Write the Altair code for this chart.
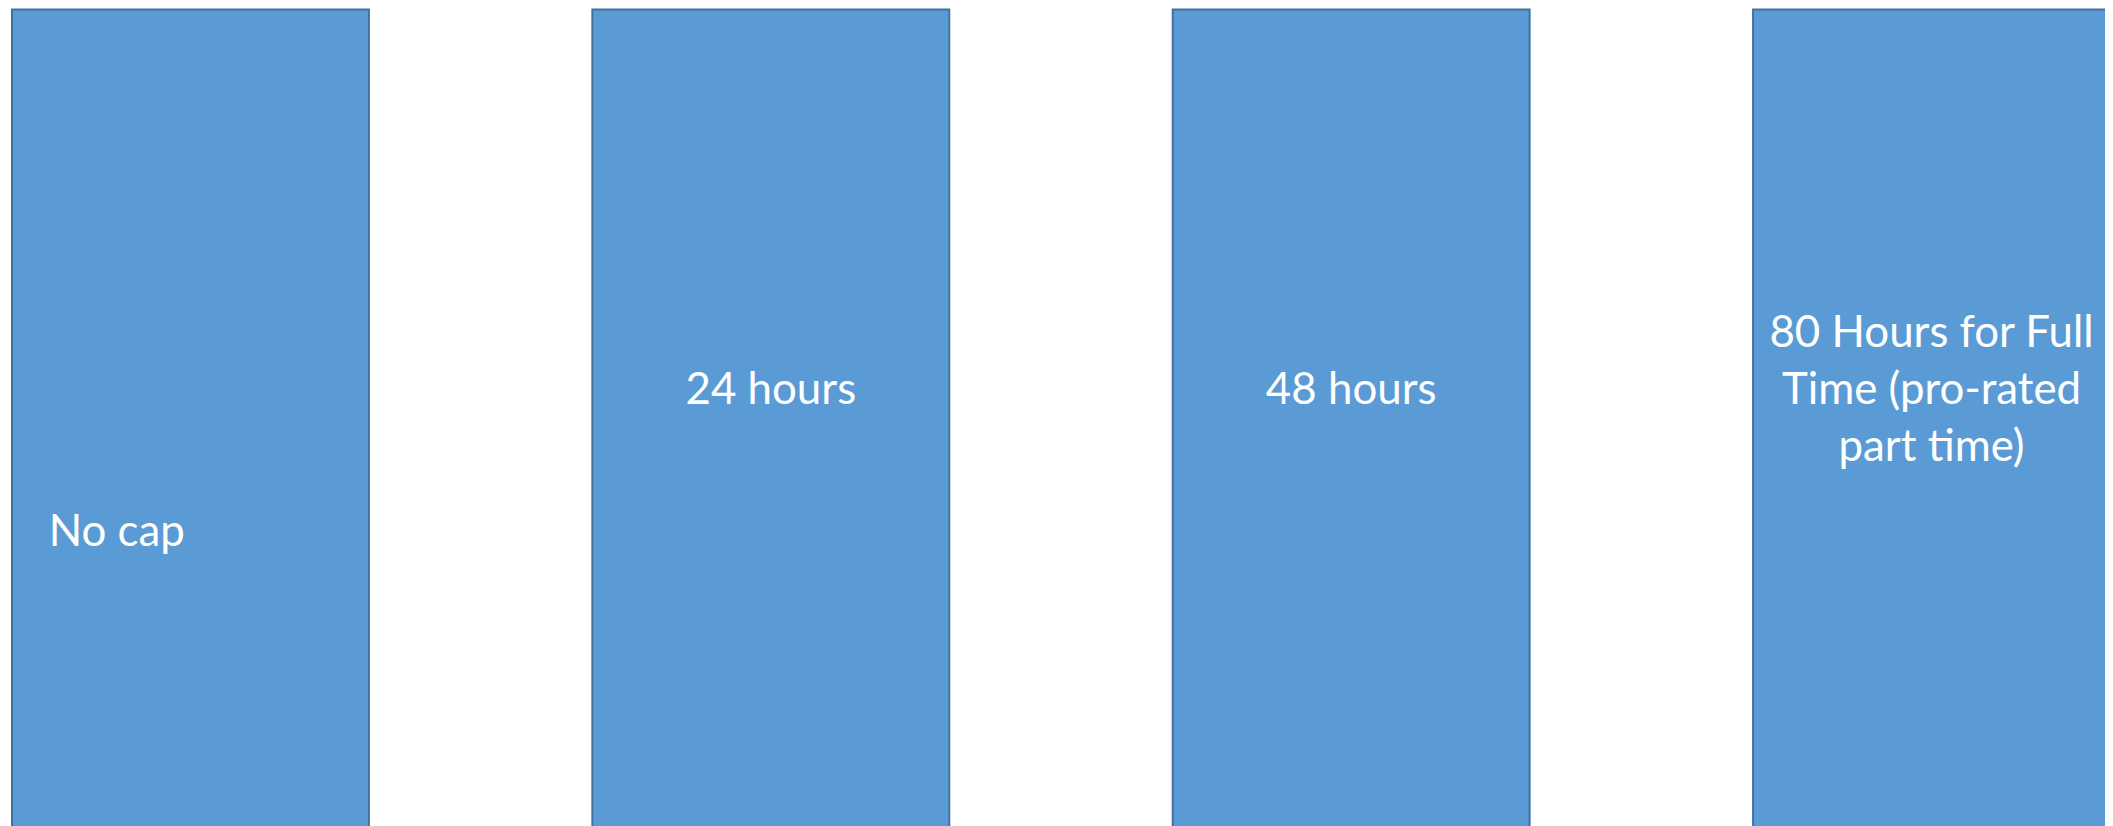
import altair as alt
import pandas as pd

categories = ["No cap", "24 hours", "48 hours", "80 Hours for Full Time (pro-rated part time)"]
label_lines = [["No cap"], ["24 hours"], ["48 hours"], ["80 Hours for Full", "Time (pro-rated", "part time)"]]
levels = [1, 1, 1, 1]

df = pd.DataFrame({"category": categories, "lines": label_lines, "level": levels})
df["nlines"] = [len(l) for l in label_lines]

W, H = 2105, 818
FILL = "#5B9BD5"
STROKE = "#41719C"
LH = 57

xenc = alt.X("category:N", sort=categories,
             scale=alt.Scale(range=[4, 2110], paddingInner=0.385, paddingOuter=0, round=False),
             axis=None)

base = alt.Chart(df)

bars = base.mark_bar(fill=FILL, stroke=STROKE, strokeWidth=2, cornerRadius=0).encode(
    x=xenc,
    y=alt.Y("level:Q", scale=alt.Scale(domain=[0, 1], range=[840, 0]), axis=None),
    y2=alt.datum(0),
)

text_style = dict(font="Lato", fontSize=44, color="white", baseline="middle", align="center", lineHeight=LH)

single = base.transform_filter(
    (alt.datum.category != "No cap") & (alt.datum.nlines == 1)
).mark_text(**text_style).encode(
    x=xenc, y=alt.value(383), text="lines",
)

multi = base.transform_filter(alt.datum.nlines == 3).mark_text(dy=-LH, **text_style).encode(
    x=xenc, y=alt.value(383), text="lines",
)

nocap = base.transform_filter(alt.datum.category == "No cap").mark_text(
    dx=-74, dy=142, **text_style
).encode(
    x=xenc, y=alt.value(383), text="lines",
)

chart = alt.layer(bars, single, multi, nocap).properties(
    width=W, height=H, padding=0, background="white",
    autosize=alt.AutoSizeParams(type="none"),
).configure_view(stroke=None)

chart.save("out.html", embed_options={"renderer": "svg", "actions": False})
